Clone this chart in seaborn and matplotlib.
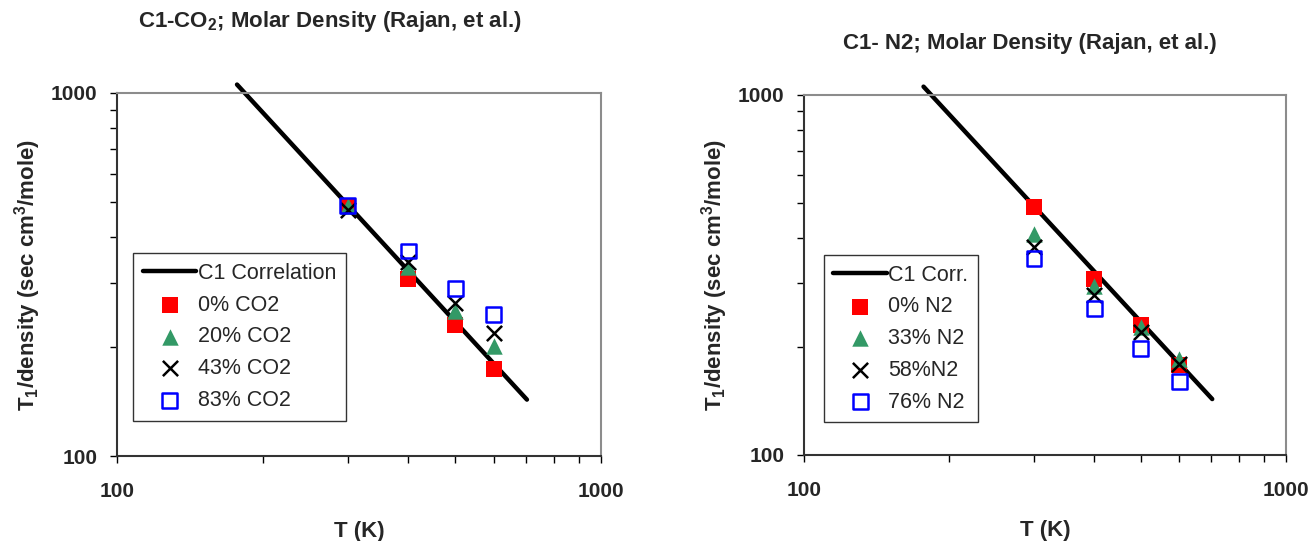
import numpy as np
import pandas as pd
import matplotlib
matplotlib.use("Agg")
import matplotlib.pyplot as plt
import seaborn as sns
from matplotlib.ticker import LogLocator, NullFormatter, FixedLocator, FixedFormatter

sns.set_theme(style="white")
plt.rcParams['font.family'] = ['Liberation Sans', 'DejaVu Sans']
plt.rcParams['mathtext.fontset'] = 'custom'
plt.rcParams['mathtext.rm'] = 'Liberation Sans'
plt.rcParams['mathtext.bf'] = 'Liberation Sans:bold'

# ---- data ----
temps = [300, 400, 500, 600]
corr_T = [177, 703]
corr_val = [1055, 143]

co2_labels = ["0% CO2", "20% CO2", "43% CO2", "83% CO2"]
co2_0 = [489, 307, 230, 174]
co2_20 = [489, 332, 251, 201]
co2_43 = [476, 343, 264, 218]
co2_83 = [489, 367, 290, 245]

n2_labels = ["0% N2", "33% N2", "58%N2", "76% N2"]
n2_0 = [490, 308, 229, 178]
n2_33 = [411, 294, 227, 185]
n2_58 = [379, 278, 220, 179]
n2_76 = [352, 255, 198, 160]

titles = ["C1-CO$_\\mathbf{2}$; Molar Density (Rajan, et al.)",
          "C1- N2; Molar Density (Rajan, et al.)"]
corr_labels = ["C1 Correlation", "C1 Corr."]

styles = [
    dict(marker="s", color="#FF0000", edgecolor="#FF0000", s=130, linewidth=0),
    dict(marker="^", color="#339966", edgecolor="#339966", s=140, linewidth=0),
    dict(marker="x", color="#000000", s=120, linewidth=1.8),
    dict(marker="s", color="none", edgecolor="#0000FF", s=115, linewidth=1.8),
]

fig = plt.figure(figsize=(13.16, 5.41), dpi=100)
W, H = 1316, 541
ax1 = fig.add_axes([117 / W, 1 - 456 / H, 484 / W, 363 / H])
ax2 = fig.add_axes([804 / W, 1 - 455 / H, 482 / W, 360 / H])

panels = [
    (ax1, co2_labels, [co2_0, co2_20, co2_43, co2_83], titles[0], corr_labels[0], (0.033, 0.559), (330, 22)),
    (ax2, n2_labels, [n2_0, n2_33, n2_58, n2_76], titles[1], corr_labels[1], (0.041, 0.556), (1030, 44)),
]

for ax, labels, series, title, clab, legpos, tpos in panels:
    df_c = pd.DataFrame({"T": corr_T, "v": corr_val})
    sns.lineplot(data=df_c, x="T", y="v", ax=ax, color="black", linewidth=3.2,
                 label=clab, clip_on=False, zorder=2)
    for lab, vals, st in zip(labels, series, styles):
        df = pd.DataFrame({"T": temps, "v": vals})
        kw = dict(st)
        if kw["marker"] == "x":
            sns.scatterplot(data=df, x="T", y="v", ax=ax, marker="x", color=kw["color"],
                            s=kw["s"], linewidth=kw["linewidth"], label=lab, zorder=3)
        else:
            sns.scatterplot(data=df, x="T", y="v", ax=ax, marker=kw["marker"],
                            facecolor=kw["color"], edgecolor=kw["edgecolor"],
                            s=kw["s"], linewidth=kw["linewidth"], label=lab, zorder=3)
    ax.set_xscale("log")
    ax.set_yscale("log")
    ax.set_xlim(100, 1000)
    ax.set_ylim(100, 1000)
    ax.xaxis.set_major_locator(FixedLocator([100, 1000]))
    ax.yaxis.set_major_locator(FixedLocator([100, 1000]))
    ax.xaxis.set_major_formatter(FixedFormatter(["100", "1000"]))
    ax.yaxis.set_major_formatter(FixedFormatter(["100", "1000"]))
    ax.xaxis.set_minor_locator(LogLocator(base=10, subs=np.arange(2, 10)))
    ax.yaxis.set_minor_locator(LogLocator(base=10, subs=np.arange(2, 10)))
    ax.xaxis.set_minor_formatter(NullFormatter())
    ax.yaxis.set_minor_formatter(NullFormatter())
    ax.tick_params(axis="both", which="both", direction="out", length=5, width=1,
                   color="black", bottom=True, left=True, top=False, right=False)
    ax.tick_params(axis="x", which="major", pad=14, labelsize=15)
    ax.tick_params(axis="y", which="major", pad=9, labelsize=15)
    for t in ax.get_xticklabels() + ax.get_yticklabels():
        t.set_fontweight("bold")
    ax.set_facecolor("white")
    ax.grid(False)
    for sp in ["top", "right"]:
        ax.spines[sp].set_color("#8c8c8c")
        ax.spines[sp].set_linewidth(1.5)
    for sp in ["left", "bottom"]:
        ax.spines[sp].set_color("#333333")
        ax.spines[sp].set_linewidth(1.5)
    ax.set_xlabel("T (K)", fontsize=16, fontweight="bold", labelpad=14)
    ax.set_ylabel("T$_\\mathbf{1}$/density (sec cm$^\\mathbf{3}$/mole)", fontsize=16,
                  fontweight="bold", labelpad=6)
    fig.text(tpos[0] / W, 1 - tpos[1] / H, title, ha="center", va="center",
             fontsize=16, fontweight="bold")
    leg = ax.legend(loc="upper left", bbox_to_anchor=legpos, fontsize=15.5,
                    frameon=True, fancybox=False, edgecolor="black",
                    handlelength=2.5, handletextpad=0.05, labelspacing=0.5,
                    borderpad=0.45, borderaxespad=0)
    leg.get_frame().set_linewidth(1.0)
    leg.set_zorder(5)

fig.savefig("out.png", dpi=100, facecolor="white")
